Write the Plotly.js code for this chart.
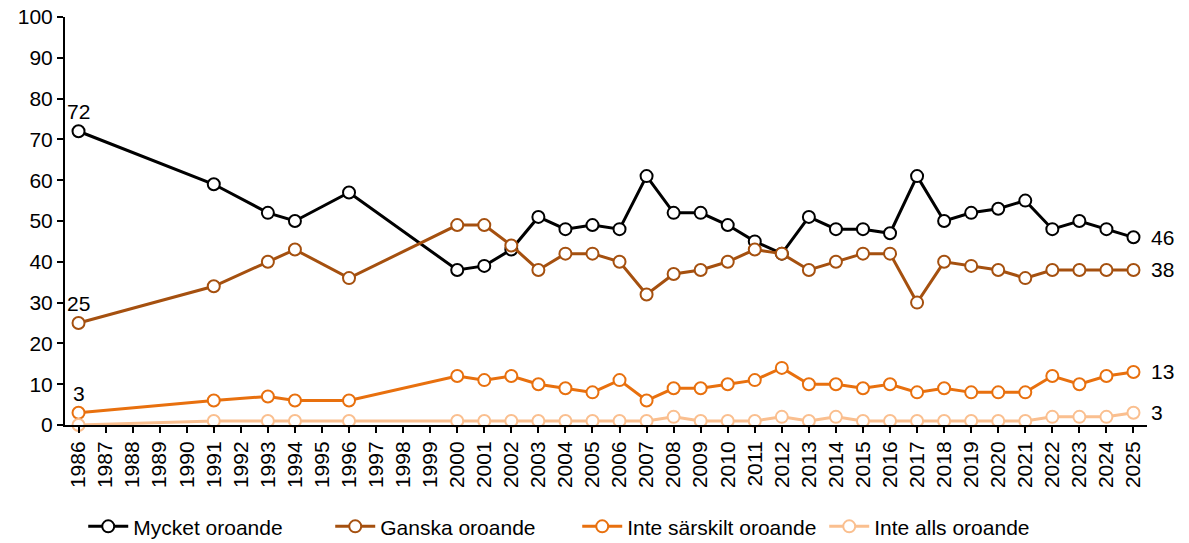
<!DOCTYPE html>
<html>
<head>
<meta charset="utf-8">
<script src="https://cdn.plot.ly/plotly-3.0.1.min.js"></script>
<style>html,body{margin:0;padding:0;background:#fff;}#chart{width:1189px;height:543px;}</style>
</head>
<body>
<div id="chart"></div>
<script>
const years = ["1986","1987","1988","1989","1990","1991","1992","1993","1994","1995","1996","1997","1998","1999","2000","2001","2002","2003","2004","2005","2006","2007","2008","2009","2010","2011","2012","2013","2014","2015","2016","2017","2018","2019","2020","2021","2022","2023","2024","2025"];
const mycket   = [72,null,null,null,null,59,null,52,50,null,57,null,null,null,38,39,43,51,48,49,48,61,52,52,49,45,42,51,48,48,47,61,50,52,53,55,48,50,48,46];
const ganska   = [25,null,null,null,null,34,null,40,43,null,36,null,null,null,49,49,44,38,42,42,40,32,37,38,40,43,42,38,40,42,42,30,40,39,38,36,38,38,38,38];
const sarskilt = [3,null,null,null,null,6,null,7,6,null,6,null,null,null,12,11,12,10,9,8,11,6,9,9,10,11,14,10,10,9,10,8,9,8,8,8,12,10,12,13];
const alls     = [0,null,null,null,null,1,null,1,1,null,1,null,null,null,1,1,1,1,1,1,1,1,2,1,1,1,2,1,2,1,1,1,1,1,1,1,2,2,2,3];
const seriesNames = ["Mycket oroande","Ganska oroande","Inte särskilt oroande","Inte alls oroande"];
const colors = ["#000000","#A5500F","#E8700E","#FABF8F"];
const allSeries = [mycket, ganska, sarskilt, alls];

function F(size){ return {family: 'Liberation Sans, Arial, sans-serif', size: size || 21, color: '#000000'}; }

const traces = allSeries.map((s,i)=>({
  x: years, y: s, name: seriesNames[i], type: 'scatter', mode: 'lines+markers',
  connectgaps: true, cliponaxis: false,
  line: {color: colors[i], width: 3},
  marker: {symbol: 'circle', size: 12, color: '#ffffff', line: {color: colors[i], width: 2}}
}));

const annotations = [];
const firstIdx = 0, lastIdx = years.length - 1;
[mycket, ganska, sarskilt].forEach((s)=>{
  annotations.push({xref: 'x', yref: 'y', x: firstIdx, y: s[firstIdx], text: String(s[firstIdx]),
    showarrow: false, xanchor: 'center', yanchor: 'bottom', yshift: 6, font: F(21)});
});
allSeries.forEach((s)=>{
  annotations.push({xref: 'x', yref: 'y', x: lastIdx, y: s[lastIdx], text: String(s[lastIdx]),
    showarrow: false, xanchor: 'left', yanchor: 'middle', xshift: 16, font: F(21)});
});

const layout = {
  width: 1189, height: 543,
  margin: {l: 65, r: 42, t: 17, b: 118},
  paper_bgcolor: '#ffffff', plot_bgcolor: '#ffffff',
  font: F(21),
  showlegend: true,
  legend: {orientation: 'h', xref: 'container', yref: 'container', x: 0.07, xanchor: 'left',
    y: 0.03, yanchor: 'middle', font: F(21), entrywidth: 192, entrywidthmode: 'pixels',
    itemwidth: 40, bgcolor: 'rgba(0,0,0,0)'},
  xaxis: {type: 'category', range: [-0.5, 39.5], showgrid: false, zeroline: false, automargin: false,
    showline: true, linecolor: '#000', linewidth: 2, ticks: 'outside', ticklen: 6,
    tickcolor: '#000', tickwidth: 2, tickangle: -90, tickfont: F(21), fixedrange: true},
  yaxis: {range: [0, 100], dtick: 10, showgrid: false, zeroline: false, automargin: false,
    showline: true, linecolor: '#000', linewidth: 2, ticks: 'outside', ticklen: 6,
    tickcolor: '#000', tickwidth: 2, tickfont: F(21), fixedrange: true},
  annotations: annotations
};

Plotly.newPlot('chart', traces, layout, {displayModeBar: false, staticPlot: true});
</script>
</body>
</html>
